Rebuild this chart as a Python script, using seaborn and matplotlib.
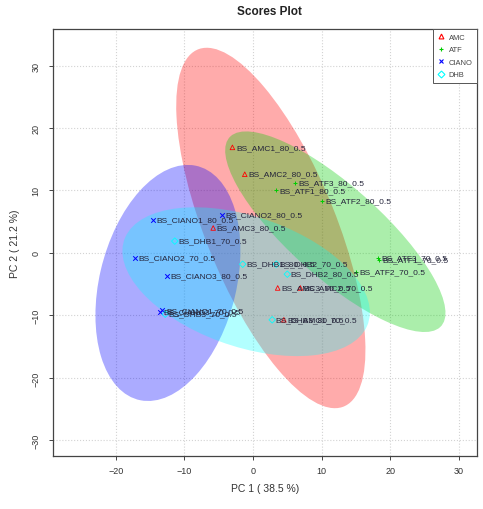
import numpy as np
import pandas as pd
import matplotlib
matplotlib.use("Agg")
import matplotlib.pyplot as plt
import seaborn as sns
from matplotlib.patches import Ellipse
from matplotlib.lines import Line2D

# ---- PCA scores per group ----
groups = ["AMC", "ATF", "CIANO", "DHB"]

amc_pc1 = [-3.0, -1.2, -5.8, 3.6, 6.9, 4.5]
amc_pc2 = [16.9, 12.6, 4.0, -5.6, -5.6, -10.7]
amc_names = ["BS_AMC1_80_0.5", "BS_AMC2_80_0.5", "BS_AMC3_80_0.5",
             "BS_AMC3_70_0.5", "BS_AMC2_70_0.5", "BS_AMC1_70_0.5"]

atf_pc1 = [3.3, 6.1, 10.0, 18.2, 18.4, 15.0]
atf_pc2 = [10.0, 11.2, 8.3, -0.8, -1.1, -3.0]
atf_names = ["BS_ATF1_80_0.5", "BS_ATF3_80_0.5", "BS_ATF2_80_0.5",
             "BS_ATF3_70_0.5", "BS_ATF1_70_0.5", "BS_ATF2_70_0.5"]

ciano_pc1 = [-14.6, -4.5, -12.5, -17.2, -13.6, -13.2]
ciano_pc2 = [5.3, 6.1, -3.7, -0.8, -9.4, -9.2]
ciano_names = ["BS_CIANO1_80_0.5", "BS_CIANO2_80_0.5", "BS_CIANO3_80_0.5",
               "BS_CIANO2_70_0.5", "BS_CIANO3_70_0.5", "BS_CIANO1_70_0.5"]

dhb_pc1 = [-11.4, -1.5, 3.4, 5.0, -12.8, 2.8]
dhb_pc2 = [1.9, -1.8, -1.8, -3.4, -9.8, -10.7]
dhb_names = ["BS_DHB1_70_0.5", "BS_DHB1_80_0.5", "BS_DHB2_70_0.5",
             "BS_DHB2_80_0.5", "BS_DHB3_70_0.5", "BS_DHB3_80_0.5"]

# 95% confidence regions per group: centre, semi-axes, rotation (degrees)
ell_cx = [2.6, 12.0, -12.4, -1.0]
ell_cy = [4.0, 3.4, -4.8, -4.6]
ell_a = [30.5, 21.6, 19.2, 19.0]
ell_b = [9.6, 7.0, 10.0, 10.3]
ell_angle = [-70.0, -45.0, 78.0, -22.0]

pc1_label = "PC 1 ( 38.5 %)"
pc2_label = "PC 2 ( 21.2 %)"
x_ticks = [-20, -10, 0, 10, 20, 30]
y_ticks = [-30, -20, -10, 0, 10, 20, 30]

colors = ["#FF0000", "#00CD00", "#0000FF", "#00FFFF"]
fill_alpha = [0.33, 0.33, 0.33, 0.30]
markers = ["^", "+", "x", "D"]
hollow = [True, False, False, True]

frames = []
for g, xs, ys, ns in zip(groups,
                         [amc_pc1, atf_pc1, ciano_pc1, dhb_pc1],
                         [amc_pc2, atf_pc2, ciano_pc2, dhb_pc2],
                         [amc_names, atf_names, ciano_names, dhb_names]):
    frames.append(pd.DataFrame({"PC1": xs, "PC2": ys, "name": ns, "group": g}))
scores = pd.concat(frames, ignore_index=True)

sns.set_style("white")
plt.rcParams["font.family"] = ["Liberation Sans", "DejaVu Sans"]

fig = plt.figure(figsize=(4.83, 5.10), dpi=100)
W, H = 483, 510
ax = fig.add_axes([53 / W, 1 - 457 / H, (477 - 53) / W, (457 - 30) / H])

ax.set_xlim(-29.15, 32.65)
ax.set_ylim(-32.5, 35.85)
ax.set_xticks(x_ticks)
ax.set_yticks(y_ticks)
ax.grid(True, color="lightgray", linestyle=":", linewidth=0.8, zorder=0)
ax.set_axisbelow(True)

for i, g in enumerate(groups):
    ax.add_patch(Ellipse((ell_cx[i], ell_cy[i]), 2 * ell_a[i], 2 * ell_b[i],
                         angle=ell_angle[i], facecolor=colors[i], alpha=fill_alpha[i],
                         edgecolor="none", zorder=1))

for i, g in enumerate(groups):
    sub = scores[scores["group"] == g]
    before = len(ax.collections)
    sns.scatterplot(data=sub, x="PC1", y="PC2", marker=markers[i], color=colors[i],
                    s=11, linewidth=0.7, ax=ax, legend=False, zorder=3)
    coll = ax.collections[before]
    if hollow[i]:
        coll.set_facecolor("none")
        coll.set_edgecolor(colors[i])
        coll.set_linewidth(0.6)

for _, r in scores.iterrows():
    ax.annotate(r["name"], (r["PC1"], r["PC2"]), xytext=(2.5, 0),
                textcoords="offset points", fontsize=6, va="center", ha="left",
                color="#24243a", zorder=4)

for sp in ax.spines.values():
    sp.set_color("#444444")
    sp.set_linewidth(0.9)

ax.tick_params(axis="both", direction="out", length=3, width=0.7, color="#444444",
               labelsize=6.5, labelcolor="#333333")
ax.tick_params(axis="x", pad=4)
ax.tick_params(axis="y", pad=6)
ax.tick_params(bottom=True, left=True)
for t in ax.get_yticklabels():
    t.set_rotation(90)
    t.set_va("center")

ax.set_xlabel(pc1_label, fontsize=7.5, color="#333333", labelpad=6)
ax.set_ylabel(pc2_label, fontsize=7.5, color="#333333", labelpad=8)

handles = []
for i, g in enumerate(groups):
    handles.append(Line2D([], [], linestyle="none", marker=markers[i], color=colors[i],
                          markeredgecolor=colors[i],
                          markerfacecolor="none" if hollow[i] else colors[i],
                          markersize=3.5, markeredgewidth=0.8, label=g))
leg = ax.legend(handles=handles, loc="upper right", borderaxespad=0, fancybox=False,
                framealpha=1, edgecolor="#555555", fontsize=5.4, handlelength=1.0,
                handletextpad=0.5, labelspacing=0.7, borderpad=0.6)
leg.get_frame().set_linewidth(0.7)
for t in leg.get_texts():
    t.set_color("#444444")

fig.text(269.5 / W, 1 - 12 / H, "Scores Plot", ha="center", va="center",
         fontsize=8.5, fontweight="bold", color="#222222")

fig.savefig("out.png", dpi=100)
